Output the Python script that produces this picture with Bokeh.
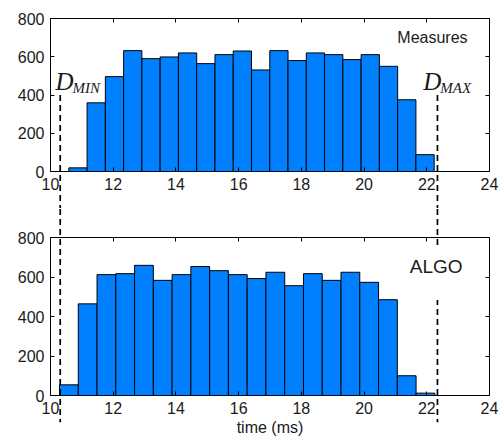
import numpy as np
from bokeh.plotting import figure
from bokeh.layouts import column
from bokeh.models import FixedTicker, LinearAxis, Label, BoxAnnotation, Range1d
from bokeh.embed import file_html
from bokeh.resources import INLINE

x_ticks = [10, 12, 14, 16, 18, 20, 22, 24]
y_ticks = [0, 200, 400, 600, 800]

measures_bin_start = 10.584
measures_bin_width = 0.5826
measures_counts = [19, 359, 496, 632, 590, 599, 620, 564, 611, 630,
                   531, 632, 580, 620, 611, 585, 611, 550, 375, 88]

algo_bin_start = 10.287
algo_bin_width = 0.5985
algo_counts = [54, 464, 612, 617, 659, 583, 612, 653, 632, 612,
               592, 624, 556, 617, 583, 624, 573, 485, 100, 12]

d_min = 10.31
d_max = 22.34

BAR = "#0080ff"
TXT = "#1a1a1a"
SANS = "Liberation Sans"
SERIF = "Liberation Serif"


def make_panel(counts, start, width, h, b_top, b_bot):
    edges = start + width * np.arange(len(counts) + 1)
    p = figure(width=500, height=h, x_range=Range1d(10, 24), y_range=Range1d(0, 800),
               output_backend="svg", toolbar_location=None,
               min_border_left=50, min_border_right=11,
               min_border_top=b_top, min_border_bottom=b_bot)
    p.quad(left=edges[:-1], right=edges[1:], bottom=0, top=counts,
           fill_color=BAR, line_color="black", line_width=1)
    p.add_layout(LinearAxis(), "above")
    p.add_layout(LinearAxis(), "right")
    for ax in p.xaxis:
        ax.ticker = FixedTicker(ticks=x_ticks, minor_ticks=[])
    for ax in p.yaxis:
        ax.ticker = FixedTicker(ticks=y_ticks, minor_ticks=[])
    for ax in p.axis:
        ax.major_tick_in = 4
        ax.major_tick_out = 0
        ax.major_tick_line_color = "black"
        ax.minor_tick_line_color = None
        ax.axis_line_color = None
        ax.major_label_text_font = SANS
        ax.major_label_text_font_size = "16px"
        ax.major_label_text_color = TXT
        ax.major_label_standoff = 6
    for ax in p.above + p.right:
        ax.major_label_text_font_size = "1px"
        ax.major_label_text_color = None
        ax.major_label_standoff = 0
    p.xgrid.visible = False
    p.ygrid.visible = False
    p.outline_line_color = "black"
    p.outline_line_width = 1
    p.background_fill_color = "white"
    p.border_fill_color = "white"
    return p


top = make_panel(measures_counts, measures_bin_start, measures_bin_width, 208, 18, 37)
bot = make_panel(algo_counts, algo_bin_start, algo_bin_width, 235, 29, 48)

# dashed limit markers crossing both panels
top.segment(x0=[d_min, d_max], y0=[400, 400], x1=[d_min, d_max], y1=[-600, -600],
            line_color="black", line_width=1.7, line_dash="6 4", level="overlay")
bot.segment(x0=[d_min, d_max], y0=[1400, 1400], x1=[d_min, d_max], y1=[-135, -135],
            line_color="black", line_width=1.7, line_dash="6 4", level="overlay")

for xx, sub in [(10.16, "MIN"), (21.89, "MAX")]:
    top.add_layout(Label(x=xx, y=470, text="D", text_font=SERIF, text_font_style="italic",
                         text_font_size="25px", text_color=TXT, text_baseline="alphabetic"))
    top.add_layout(Label(x=xx, y=470, x_offset=17, y_offset=-6, text=sub, text_font=SERIF,
                         text_font_style="italic", text_font_size="15px", text_color=TXT,
                         text_baseline="alphabetic"))

top.add_layout(Label(x=23.30, y=701, text="Measures", text_font=SANS, text_font_size="16px",
                     text_color=TXT, text_align="right", text_baseline="middle"))

bot.add_layout(BoxAnnotation(left=21.6, right=23.6, bottom=484, top=750, fill_color="white",
                             fill_alpha=1, line_color=None, level="overlay"))
bot.add_layout(Label(x=23.14, y=652, text="ALGO", text_font=SANS, text_font_size="19px",
                     text_color=TXT, text_align="right", text_baseline="middle", level="overlay"))

for ax in bot.below:
    ax.axis_label = "time (ms)"
    ax.axis_label_text_font = SANS
    ax.axis_label_text_font_size = "16px"
    ax.axis_label_text_font_style = "normal"
    ax.axis_label_text_color = TXT
    ax.axis_label_standoff = 2

layout = column(top, bot, spacing=0)
open("out.html", "w").write(file_html(layout, INLINE))
